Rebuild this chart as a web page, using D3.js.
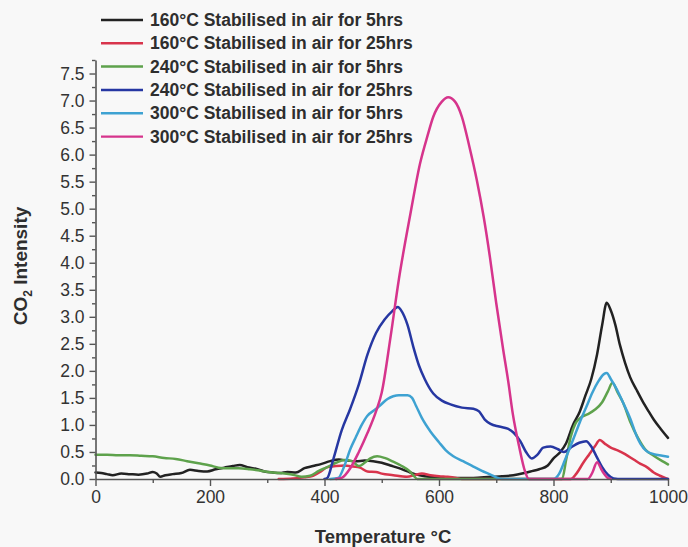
<!DOCTYPE html>
<html>
<head>
<meta charset="utf-8">
<script src="https://cdn.jsdelivr.net/npm/d3@7"></script>
<style>
  html, body { margin: 0; padding: 0; background: #f8f8f8; }
  svg { display: block; }
  text { font-family: "Liberation Sans", Arial, sans-serif; fill: #2e2e2e; }
</style>
</head>
<body>
<svg id="chart" width="688" height="547"></svg>
<script>
// CO2 evolution profiles (temperature in °C, intensity in arbitrary units)
const seriesNames = [
  "160°C Stabilised in air for 5hrs",
  "160°C Stabilised in air for 25hrs",
  "240°C Stabilised in air for 5hrs",
  "240°C Stabilised in air for 25hrs",
  "300°C Stabilised in air for 5hrs",
  "300°C Stabilised in air for 25hrs"
];
const seriesColors = ["#222222", "#d8344c", "#5ea24c", "#2637a2", "#3ea2d2", "#d6348c"];

const s160_5h = [[0,0.12],[10,0.11],[20,0.09],[30,0.07],[45,0.1],[60,0.09],[75,0.08],[90,0.1],[100,0.13],[107,0.1],[113,0.04],[122,0.07],[135,0.09],[150,0.11],[165,0.17],[180,0.15],[195,0.14],[210,0.18],[225,0.21],[240,0.24],[252,0.26],[265,0.22],[280,0.19],[295,0.14],[310,0.12],[322,0.11],[335,0.13],[350,0.12],[365,0.2],[380,0.24],[395,0.28],[410,0.33],[425,0.36],[440,0.34],[455,0.33],[470,0.34],[485,0.33],[500,0.3],[515,0.25],[530,0.2],[545,0.14],[558,0.09],[575,0.05],[600,0.03],[630,0.02],[660,0.02],[690,0.04],[710,0.05],[730,0.07],[745,0.1],[760,0.14],[775,0.18],[790,0.25],[800,0.38],[812,0.5],[822,0.66],[834,1.0],[846,1.25],[856,1.55],[866,1.85],[876,2.3],[885,2.85],[893,3.26],[900,3.12],[908,2.85],[916,2.48],[925,2.15],[934,1.88],[945,1.65],[955,1.45],[965,1.27],[975,1.1],[987,0.93],[1000,0.76]];

const s160_25h = [[320,0],[345,0.01],[365,0.03],[380,0.06],[395,0.15],[405,0.22],[420,0.24],[435,0.25],[450,0.23],[462,0.21],[475,0.14],[490,0.13],[500,0.1],[520,0.07],[544,0.04],[560,0.08],[570,0.1],[585,0.07],[600,0.05],[615,0.04],[630,0.02],[640,0],[830,0],[840,0.1],[852,0.3],[862,0.45],[872,0.6],[881,0.72],[890,0.65],[900,0.58],[912,0.53],[925,0.46],[940,0.36],[952,0.28],[963,0.22],[975,0.12],[986,0.06],[995,0.02],[1000,0]];

const s240_5h = [[0,0.45],[20,0.45],[40,0.44],[60,0.44],[80,0.43],[100,0.42],[120,0.39],[140,0.37],[160,0.33],[180,0.29],[200,0.25],[215,0.21],[230,0.2],[250,0.2],[270,0.18],[290,0.15],[310,0.12],[330,0.1],[345,0.08],[360,0.04],[375,0.06],[390,0.15],[405,0.22],[420,0.3],[435,0.35],[448,0.33],[460,0.24],[470,0.3],[480,0.38],[492,0.42],[505,0.39],[520,0.32],[535,0.24],[548,0.15],[556,0.06],[562,0],[815,0],[822,0.35],[830,0.78],[838,1.02],[848,1.14],[860,1.2],[872,1.28],[885,1.42],[895,1.62],[903,1.78],[912,1.6],[922,1.4],[934,1.06],[948,0.75],[960,0.55],[975,0.43],[990,0.33],[1000,0.27]];

const s240_25h = [[400,0],[405,0.02],[415,0.35],[430,0.9],[445,1.3],[460,1.75],[475,2.3],[490,2.7],[505,2.95],[518,3.1],[528,3.18],[535,3.1],[545,2.85],[555,2.45],[565,2.1],[575,1.85],[590,1.58],[605,1.45],[620,1.38],[640,1.32],[660,1.3],[670,1.25],[680,1.1],[690,1.02],[705,0.97],[720,0.93],[730,0.86],[742,0.7],[752,0.5],[762,0.38],[772,0.45],[782,0.58],[795,0.6],[808,0.55],[818,0.5],[830,0.58],[845,0.67],[857,0.7],[866,0.6],[875,0.42],[885,0.22],[895,0.08],[905,0.01],[920,0],[1000,0]];

const s300_5h = [[410,0],[424,0.02],[435,0.25],[445,0.55],[455,0.78],[465,1.0],[475,1.17],[488,1.28],[497,1.36],[510,1.48],[520,1.53],[530,1.55],[545,1.55],[553,1.5],[560,1.35],[570,1.13],[585,0.88],[600,0.68],[612,0.53],[625,0.42],[642,0.33],[660,0.23],[675,0.15],[690,0.08],[700,0.03],[710,0],[800,0],[810,0.1],[820,0.35],[834,0.72],[846,1.05],[858,1.35],[868,1.6],[878,1.8],[888,1.94],[893,1.96],[900,1.85],[911,1.65],[922,1.4],[934,1.12],[945,0.8],[952,0.65],[962,0.52],[975,0.46],[990,0.43],[1000,0.41]];

const s300_25h = [[420,0],[430,0.02],[445,0.2],[460,0.5],[475,0.85],[490,1.25],[500,1.6],[515,2.6],[530,3.7],[550,4.9],[567,5.84],[580,6.35],[590,6.7],[605,6.98],[616,7.06],[628,6.98],[640,6.7],[653,6.15],[666,5.53],[678,4.85],[689,4.1],[700,3.25],[712,2.4],[721,1.8],[729,1.2],[740,0.6],[750,0.15],[757,0],[860,0],[868,0.12],[876,0.31],[885,0.15],[895,0.02],[900,0]];

const seriesData = [s160_5h, s160_25h, s240_5h, s240_25h, s300_5h, s300_25h];

const xTicks = [0, 100, 200, 300, 400, 500, 600, 700, 800, 900, 1000];
const xTickLabels = ["0", "", "200", "", "400", "", "600", "", "800", "", "1000"];
const yTicks = d3.range(0, 7.76, 0.25);

const svg = d3.select("#chart");
const x = d3.scaleLinear().domain([0, 1000]).range([95.5, 668]);
const y = d3.scaleLinear().domain([0, 7.75]).range([479, 60]);

// data curves
const line = d3.line()
  .x(d => x(d[0]))
  .y(d => y(d[1]))
  .curve(d3.curveMonotoneX);

svg.append("g").selectAll("path")
  .data(seriesData)
  .join("path")
  .attr("d", line)
  .attr("fill", "none")
  .attr("stroke", (d, i) => seriesColors[i])
  .attr("stroke-width", 2.5)
  .attr("stroke-linejoin", "round")
  .attr("stroke-linecap", "round");

// x axis
const xAxis = d3.axisBottom(x)
  .tickValues(xTicks)
  .tickSizeOuter(0)
  .tickSize(0)
  .tickFormat((d, i) => xTickLabels[i]);
const gx = svg.append("g").attr("transform", `translate(0,${y(0)})`).call(xAxis);
gx.select(".domain").attr("stroke", "#555").attr("stroke-width", 1.6);
gx.selectAll(".tick line")
  .attr("stroke", "#555").attr("stroke-width", 1.4)
  .attr("y2", (d, i) => xTickLabels[i] ? 7 : 4);
gx.selectAll(".tick text")
  .attr("y", 12).attr("dy", "0.71em")
  .style("font-size", "17.5px").style("fill", "#333");

// y axis
const yAxis = d3.axisLeft(y)
  .tickValues(yTicks)
  .tickSizeOuter(0)
  .tickSize(0)
  .tickFormat(d => (Math.round(d * 4) % 2 === 0) ? d.toFixed(1) : "");
const gy = svg.append("g").attr("transform", `translate(${x(0)},0)`).call(yAxis);
gy.select(".domain").attr("stroke", "#555").attr("stroke-width", 1.6);
gy.selectAll(".tick line")
  .attr("stroke", "#555").attr("stroke-width", 1.4)
  .attr("x2", d => (Math.round(d * 4) % 2 === 0) ? -6 : -3.5);
gy.selectAll(".tick text")
  .attr("x", -11)
  .style("font-size", "17.5px").style("fill", "#333");

// axis titles
svg.append("text")
  .attr("x", 383).attr("y", 543)
  .attr("text-anchor", "middle")
  .style("font-size", "18.5px").style("font-weight", "bold")
  .text("Temperature °C");

const yTitle = svg.append("text")
  .attr("transform", "translate(27,266) rotate(-90)")
  .attr("text-anchor", "middle")
  .style("font-size", "19px").style("font-weight", "bold");
yTitle.append("tspan").text("CO");
yTitle.append("tspan").attr("dy", 5).style("font-size", "12px").text("2");
yTitle.append("tspan").attr("dy", -5).text(" Intensity");

// legend
const legendY = [20, 43.3, 66.5, 90, 113.3, 136.6];
const lg = svg.append("g").selectAll("g")
  .data(seriesNames)
  .join("g")
  .attr("transform", (d, i) => `translate(0,${legendY[i]})`);
lg.append("line")
  .attr("x1", 101).attr("x2", 143)
  .attr("stroke", (d, i) => seriesColors[i])
  .attr("stroke-width", 2.4);
lg.append("text")
  .attr("x", 150).attr("y", 6)
  .style("font-size", "17.5px").style("font-weight", "bold")
  .text(d => d);
</script>
</body>
</html>
